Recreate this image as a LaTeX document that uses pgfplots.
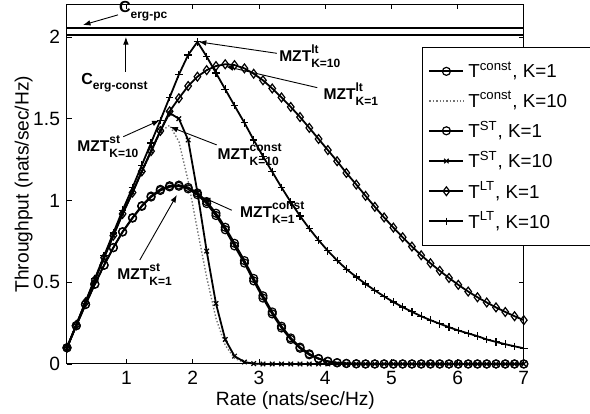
\documentclass[border=0pt]{standalone}
\usepackage{fontspec}
\setmainfont{Liberation Sans}
\usepackage{pgfplots}
\pgfplotsset{compat=1.18}
\usepackage{pgfplotstable}
\usetikzlibrary{arrows.meta}

% throughput vs rate, 50 rates from 0.1 to 7
\pgfplotstableread{
x    c1    c10   s1    s10   l1    l10
0.10 0.099 0.100 0.099 0.100 0.100 0.100
0.24 0.234 0.239 0.234 0.239 0.239 0.240
0.38 0.364 0.377 0.364 0.377 0.377 0.381
0.52 0.488 0.514 0.488 0.514 0.514 0.521
0.66 0.604 0.650 0.604 0.650 0.650 0.661
0.80 0.711 0.785 0.712 0.785 0.785 0.801
0.94 0.807 0.918 0.809 0.918 0.918 0.940
1.09 0.892 1.048 0.895 1.048 1.048 1.079
1.23 0.964 1.175 0.968 1.178 1.178 1.216
1.37 1.021 1.290 1.027 1.302 1.302 1.352
1.51 1.061 1.420 1.068 1.425 1.425 1.490
1.65 1.083 1.460 1.090 1.535 1.545 1.630
1.79 1.087 1.360 1.094 1.500 1.625 1.770
1.93 1.071 1.120 1.080 1.370 1.700 1.890
2.07 1.035 0.820 1.046 1.050 1.757 1.970
2.21 0.981 0.530 0.993 0.690 1.797 1.880
2.35 0.908 0.280 0.922 0.370 1.822 1.780
2.49 0.821 0.115 0.836 0.150 1.833 1.680
2.63 0.722 0.035 0.738 0.048 1.828 1.580
2.78 0.617 0.008 0.632 0.012 1.808 1.475
2.92 0.508 0.001 0.523 0.002 1.775 1.370
3.06 0.403 0     0.417 0     1.735 1.270
3.20 0.306 0     0.318 0     1.685 1.175
3.34 0.220 0     0.231 0     1.630 1.080
3.48 0.150 0     0.159 0     1.572 0.990
3.62 0.096 0     0.103 0     1.510 0.905
3.76 0.056 0     0.062 0     1.444 0.828
3.90 0.031 0     0.034 0     1.376 0.757
4.04 0.015 0     0.017 0     1.308 0.692
4.18 0.007 0     0.008 0     1.240 0.633
4.32 0.003 0     0.003 0     1.168 0.580
4.47 0.001 0     0.001 0     1.097 0.532
4.61 0     0     0     0     1.028 0.489
4.75 0     0     0     0     0.961 0.450
4.89 0     0     0     0     0.896 0.413
5.03 0     0     0     0     0.834 0.379
5.17 0     0     0     0     0.775 0.348
5.31 0     0     0     0     0.718 0.319
5.45 0     0     0     0     0.665 0.292
5.59 0     0     0     0     0.616 0.268
5.73 0     0     0     0     0.570 0.246
5.87 0     0     0     0     0.526 0.225
6.01 0     0     0     0     0.484 0.205
6.16 0     0     0     0     0.443 0.187
6.30 0     0     0     0     0.408 0.170
6.44 0     0     0     0     0.376 0.150
6.58 0     0     0     0     0.346 0.135
6.72 0     0     0     0     0.318 0.121
6.86 0     0     0     0     0.292 0.108
7.00 0     0     0     0     0.268 0.096
}\rates

\newcommand\scr{\fontsize{6}{6}\selectfont\bfseries}
\newcommand\mzt[2]{\textbf{MZT}\rlap{\raisebox{4pt}{\scr #1}}\raisebox{-2.6pt}{\scr #2}}
\newcommand\anfont{\fontsize{7.8}{8.5}\selectfont\bfseries}

\begin{document}
\begin{tikzpicture}
\begin{axis}[
  scale only axis, width=228.4pt, height=179.85pt,
  xmin=0.1, xmax=7, ymin=0, ymax=2.2,
  xtick={1,2,3,4,5,6,7}, ytick={0,0.5,1,1.5,2},
  tick align=inside, major tick length=2.5pt,
  axis line style={line width=0.5pt},
  every tick/.style={black, line width=0.4pt},
  tick label style={font=\fontsize{9.6}{11}\selectfont},
  /pgf/number format/assume math mode=true,
  label style={font=\fontsize{9.6}{11}\selectfont},
  xlabel={Rate (nats/sec/Hz)}, ylabel={Throughput (nats/sec/Hz)},
  xlabel shift=-3.5pt, ylabel shift=-6.5pt,
  clip=false,
  legend style={at={(0.777,0.881)}, anchor=north west, draw=black,
    line width=0.5pt, font=\fontsize{9.4}{11}\selectfont, row sep=0pt,
    inner ysep=4.5pt, nodes={inner ysep=2.6pt}},
  legend cell align=left,
]
\addplot[black, line width=0.9pt, mark=o, mark size=2pt,
  mark options={solid, line width=0.6pt}] table[x=x, y=c1] {\rates};
\addlegendentry{T\textsuperscript{const}, K=1}
\addplot[black!55, line width=0.7pt, densely dotted] table[x=x, y=c10] {\rates};
\addlegendentry{T\textsuperscript{const}, K=10\hspace*{24pt}}
\addplot[black, line width=0.9pt, mark=o, mark size=2pt,
  mark options={solid, line width=0.6pt}] table[x=x, y=s1] {\rates};
\addlegendentry{T\textsuperscript{ST}, K=1}
\addplot[black, line width=0.9pt, mark=x, mark size=1.6pt,
  mark options={solid, line width=0.6pt}] table[x=x, y=s10] {\rates};
\addlegendentry{T\textsuperscript{ST}, K=10}
\addplot[black, line width=0.9pt, mark=diamond, mark size=2.2pt,
  mark options={solid, line width=0.6pt}] table[x=x, y=l1] {\rates};
\addlegendentry{T\textsuperscript{LT}, K=1}
\addplot[black, line width=0.9pt, mark=+, mark size=1.9pt,
  mark options={solid, line width=0.6pt}] table[x=x, y=l10] {\rates};
\addlegendentry{T\textsuperscript{LT}, K=10}

% ergodic capacities
\addplot[black, line width=1pt, forget plot] coordinates {(0.1,2.053) (7,2.053)};
\addplot[black, line width=1pt, forget plot] coordinates {(0.1,2.012) (7,2.012)};

\begin{scope}[line width=0.45pt, -{Latex[length=3.8pt,width=2.8pt]}]
\draw (axis cs:0.87,2.135) -- (axis cs:0.34,2.073);
\draw (axis cs:0.99,1.786) -- (axis cs:0.99,2.0);
\draw (axis cs:3.27,1.90) -- (axis cs:2.09,1.97);
\draw (axis cs:3.88,1.69) -- (axis cs:2.50,1.82);
\draw (axis cs:0.95,1.39) -- (axis cs:1.50,1.49);
\draw (axis cs:2.36,1.34) -- (axis cs:1.66,1.45);
\draw (axis cs:2.59,0.94) -- (axis cs:2.15,1.02);
\draw (axis cs:1.20,0.636) -- (axis cs:1.76,1.034);
\end{scope}

\node[anchor=base west, inner sep=0pt, font=\fontsize{8}{9}\selectfont\bfseries]
  at (axis cs:0.88,2.147) {C\raisebox{-2.6pt}{\scr erg-pc}};
\node[anchor=base west, inner sep=0pt, font=\fontsize{8}{9}\selectfont\bfseries]
  at (axis cs:0.31,1.71) {C\raisebox{-2.6pt}{\scr erg-const}};
\node[anchor=base west, inner sep=0pt, font=\anfont] at (axis cs:3.30,1.847) {\mzt{lt}{K=10}};
\node[anchor=base west, inner sep=0pt, font=\anfont] at (axis cs:3.97,1.615) {\mzt{lt}{K=1}};
\node[anchor=base west, inner sep=0pt, font=\anfont] at (axis cs:0.25,1.297) {\mzt{st}{K=10}};
\node[anchor=base west, inner sep=0pt, font=\anfont] at (axis cs:2.37,1.248) {\mzt{const}{K=10}};
\node[anchor=base west, inner sep=0pt, font=\anfont] at (axis cs:2.71,0.893) {\mzt{const}{K=1}};
\node[anchor=base west, inner sep=0pt, font=\anfont] at (axis cs:0.855,0.514) {\mzt{st}{K=1}};

\coordinate (bbsw) at (axis cs:-0.912,-0.306);
\coordinate (bbne) at (axis cs:8.0,2.226);
\end{axis}
\pgfresetboundingbox
\useasboundingbox (bbsw) rectangle (bbne);
\end{tikzpicture}
\end{document}
